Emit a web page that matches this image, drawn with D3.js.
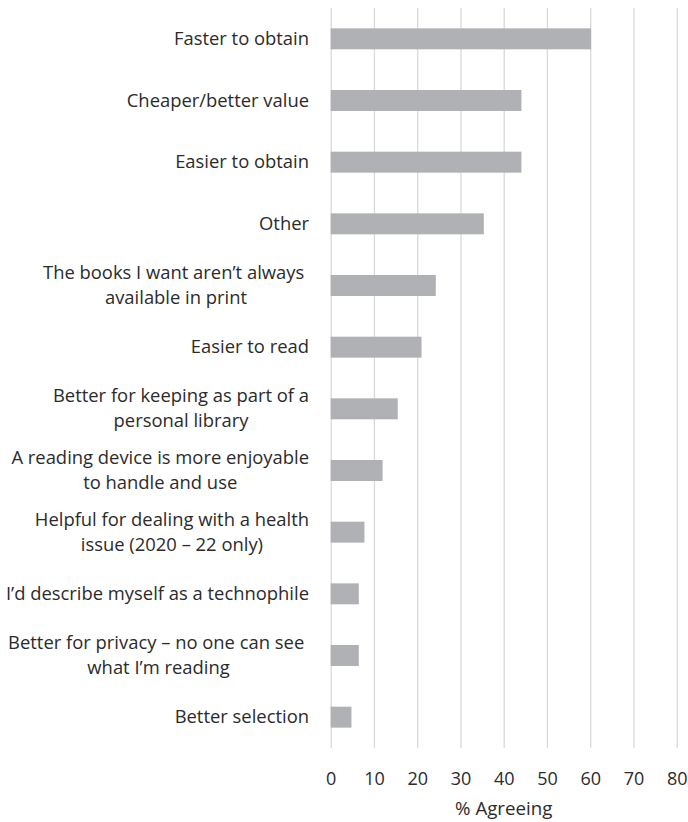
<!DOCTYPE html>
<html>
<head>
<meta charset="utf-8">
<script src="https://cdn.jsdelivr.net/npm/d3@7"></script>
<style>
  html, body { margin: 0; padding: 0; background: #ffffff; }
  svg { display: block; font-family: "Open Sans", sans-serif; }
</style>
</head>
<body>
<svg id="chart" width="688" height="822"></svg>
<script>
const categories = [
  "Faster to obtain",
  "Cheaper/better value",
  "Easier to obtain",
  "Other",
  "The books I want aren\u2019t always \navailable in print",
  "Easier to read",
  "Better for keeping as part of a\npersonal library",
  "A reading device is more enjoyable\nto handle and use",
  "Helpful for dealing with a health\nissue (2020 \u2013 22 only)",
  "I\u2019d describe myself as a technophile",
  "Better for privacy \u2013 no one can see \nwhat I\u2019m reading",
  "Better selection"
];
const values = [60.2, 44.1, 44.1, 35.4, 24.3, 21.0, 15.5, 12.0, 7.8, 6.5, 6.5, 4.8];
const xTicks = [0, 10, 20, 30, 40, 50, 60, 70, 80];
const xTitle = "% Agreeing";

(function () {
const svg = d3.select("#chart");
const plotLeft = 330.7, plotRight = 676.7, plotTop = 8, plotBottom = 748;
const textColor = "#2b2b2b";

const x = d3.scaleLinear().domain([0, 80]).range([plotLeft, plotRight]);
const y = d3.scaleBand().domain(categories).range([plotTop, plotBottom])
  .paddingInner(0.66).paddingOuter(0.33);

// gridlines
const grid = svg.append("g").attr("transform", `translate(0,${plotBottom})`)
  .call(d3.axisBottom(x).tickValues(xTicks).tickSize(-(plotBottom - plotTop)).tickFormat(""));
grid.select(".domain").remove();
grid.selectAll(".tick line").attr("stroke", "#d9d9d9").attr("stroke-width", 1.3);

// bars
svg.append("g").selectAll("rect").data(categories).join("rect")
  .attr("x", x(0))
  .attr("y", d => y(d))
  .attr("width", (d, i) => x(values[i]) - x(0))
  .attr("height", y.bandwidth())
  .attr("fill", "#b0b1b4");

// x tick labels
const ax = svg.append("g").attr("transform", `translate(0,${plotBottom})`)
  .call(d3.axisBottom(x).tickValues(xTicks).tickSize(0).tickPadding(0).tickFormat(d3.format("d")));
ax.select(".domain").remove();
ax.selectAll(".tick text")
  .attr("y", 37).attr("dy", null)
  .attr("font-family", "Open Sans")
  .attr("font-size", 18)
  .attr("fill", textColor);

// axis title
svg.append("text")
  .attr("x", (plotLeft + plotRight) / 2)
  .attr("y", 815)
  .attr("text-anchor", "middle")
  .attr("font-size", 18.7)
  .attr("fill", textColor)
  .text(xTitle);

// category labels
const labelRight = 309;
const lineH = 25;
const lg = svg.append("g");
categories.forEach(cat => {
  const lines = cat.split("\n");
  const cy = y(cat) + y.bandwidth() / 2;
  const texts = lines.map(ln => lg.append("text")
    .attr("font-size", 18.4)
    .attr("fill", textColor)
    .style("white-space", "pre")
    .text(ln));
  const widths = texts.map(t => t.node().getComputedTextLength());
  const maxW = d3.max(widths);
  const cx = labelRight - maxW / 2;
  const n = lines.length;
  texts.forEach((t, j) => {
    t.attr("text-anchor", n > 1 ? "middle" : "end")
     .attr("x", n > 1 ? cx : labelRight)
     .attr("y", cy + 6 + (j - (n - 1) / 2) * lineH);
  });
});
})();
</script>
</body>
</html>
